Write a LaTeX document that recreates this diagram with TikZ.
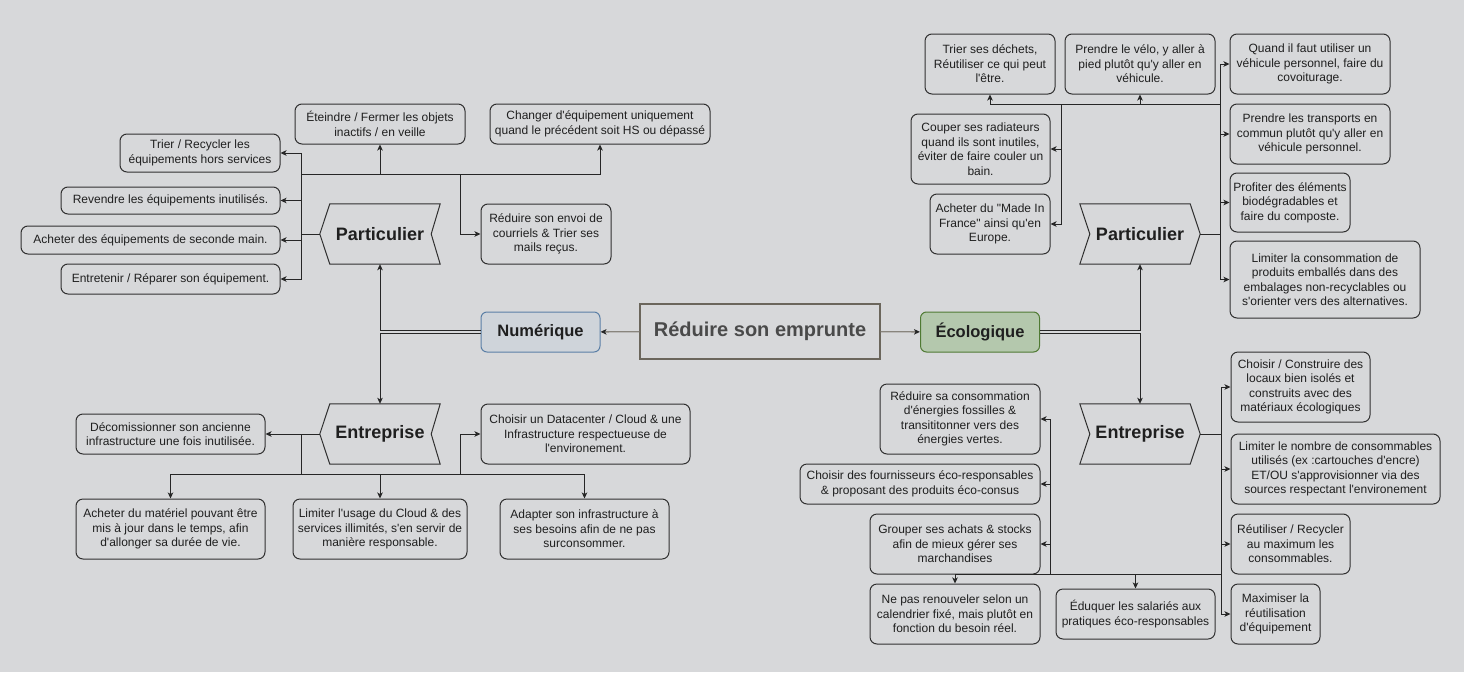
\documentclass[tikz,border=0pt]{standalone}
\usepackage{fontspec}
\newfontfamily\bodyfont{Liberation Sans}
\usetikzlibrary{arrows.meta}
\definecolor{bgc}{HTML}{D7D8DA}
\definecolor{boxc}{HTML}{303030}
\definecolor{txtc}{HTML}{1F1F1F}
\definecolor{linec}{HTML}{262626}
\definecolor{numfill}{HTML}{CFD4DA}
\definecolor{numdraw}{HTML}{5B7FA6}
\definecolor{ecofill}{HTML}{B4C8AD}
\definecolor{ecodraw}{HTML}{4F7A33}
\definecolor{ctrdraw}{HTML}{6B665C}
\definecolor{ctrtxt}{HTML}{4A4A4A}
\tikzset{
  box/.style={draw=boxc, line width=1pt, rounded corners=7pt, fill=bgc, align=center,
    inner sep=0pt, text=txtc, font=\bodyfont\fontsize{12}{14.5}\selectfont},
  stepnode/.style={minimum width=120pt, minimum height=60pt, inner sep=0pt, text=txtc,
    font=\bodyfont\bfseries\fontsize{18}{21}\selectfont},
  stepline/.style={draw=boxc, line width=1pt},
  arr/.style={draw=linec, line width=1pt, -{Stealth[length=6pt,width=5.5pt,inset=1.5pt]}},
  carr/.style={draw=ctrdraw!80, line width=1.3pt, -{Stealth[length=6pt,width=5.5pt,inset=1.5pt,color=linec]}},
  catbox/.style={line width=1pt, rounded corners=6pt, inner sep=0pt, minimum width=119pt,
    minimum height=40pt, text=txtc, font=\bodyfont\bfseries\fontsize{16.5}{20}\selectfont},
}
\newcommand\mybox[6]{\node[box,minimum width={(#3-#2)*1pt},minimum height={(#5-#4)*1pt}] (#1) at ({(#2+#3)/2},{(#4+#5)/2}) {#6};}
\begin{document}
\begin{tikzpicture}[x=1pt,y=-1pt]
\fill[bgc] (0,0) rectangle (1464,672);
\useasboundingbox (0,0) rectangle (1464,672);

% ---------- centre ----------
\node[draw=ctrdraw, line width=1.3pt, fill=bgc, minimum width=240pt, minimum height=55pt, inner sep=0pt,
  text=ctrtxt, font=\bodyfont\bfseries\fontsize{20}{24}\selectfont] (ctr) at (760,331.5) {Réduire son emprunte};
\node[catbox, draw=numdraw, fill=numfill] (num) at (540.5,332) {Numérique};
\node[catbox, draw=ecodraw, fill=ecofill] (eco) at (980,332) {Écologique};
\draw[carr] (ctr) -- (num);
\draw[carr] (ctr) -- (eco);

% ---------- left step shapes ----------
\node[stepnode] (lp) at (380,234) {Particulier};
\draw[stepline] ([xshift=10pt]lp.north west) -- (lp.west) -- ([xshift=10pt]lp.south west)
  -- (lp.south east) -- ([xshift=-9pt]lp.east) -- (lp.north east) -- cycle;
\node[stepnode] (le) at (380,434) {Entreprise};
\draw[stepline] ([xshift=10pt]le.north west) -- (le.west) -- ([xshift=10pt]le.south west)
  -- (le.south east) -- ([xshift=-9pt]le.east) -- (le.north east) -- cycle;

% ---------- right step shapes ----------
\node[stepnode] (rp) at (1140,234) {Particulier};
\draw[stepline] (rp.north west) -- ([xshift=-10pt]rp.north east) -- (rp.east)
  -- ([xshift=-10pt]rp.south east) -- (rp.south west) -- ([xshift=10pt]rp.west) -- cycle;
\node[stepnode] (re) at (1140,434) {Entreprise};
\draw[stepline] (re.north west) -- ([xshift=-10pt]re.north east) -- (re.east)
  -- ([xshift=-10pt]re.south east) -- (re.south west) -- ([xshift=10pt]re.west) -- cycle;

% ---------- left boxes ----------
\mybox{beteindre}{295}{465}{104}{144}{Éteindre / Fermer les objets\\inactifs / en veille}
\mybox{bchanger}{490}{710}{104}{144}{Changer d'équipement uniquement\\quand le précédent soit HS ou dépassé}
\mybox{btrier}{120}{280}{134}{172}{Trier / Recycler les\\équipements hors services}
\mybox{brevendre}{61}{280}{187}{214}{Revendre les équipements inutilisés.}
\mybox{bseconde}{21}{280}{226}{254}{Acheter des équipements de seconde main.}
\mybox{bentretenir}{61}{280}{264}{294}{Entretenir / Réparer son équipement.}
\mybox{bcourriels}{481}{611}{204}{264}{Réduire son envoi de\\courriels \& Trier ses\\mails reçus.}
\mybox{bdecom}{76}{265}{414}{454}{Décomissionner son ancienne\\infrastructure une fois inutilisée.}
\mybox{bdatacenter}{481}{690}{404}{464}{Choisir un Datacenter / Cloud \& une\\Infrastructure respectueuse de\\l'environement.}
\mybox{bmateriel}{76}{265}{499}{559}{Acheter du matériel pouvant être\\mis à jour dans le temps, afin\\d'allonger sa durée de vie.}
\mybox{bcloud}{293}{467}{499}{559}{Limiter l'usage du Cloud \& des\\services illimités, s'en servir de\\manière responsable.}
\mybox{badapter}{500}{669}{499}{559}{Adapter son infrastructure à\\ses besoins afin de ne pas\\surconsommer.}

% ---------- right boxes ----------
\mybox{bdechets}{925}{1055}{34}{94}{Trier ses déchets,\\Réutiliser ce qui peut\\l'être.}
\mybox{bvelo}{1065}{1215}{34}{94}{Prendre le vélo, y aller à\\pied plutôt qu'y aller en\\véhicule.}
\mybox{bcovoit}{1230}{1390}{34}{94}{Quand il faut utiliser un\\véhicule personnel, faire du\\covoiturage.}
\mybox{btransports}{1230}{1390}{104}{164}{Prendre les transports en\\commun plutôt qu'y aller en\\véhicule personnel.}
\mybox{bcompost}{1230}{1350}{173}{232}{Profiter des éléments\\biodégradables et\\faire du composte.}
\mybox{bemballes}{1230}{1420}{241}{318}{Limiter la consommation de\\produits emballés dans des\\embalages non-recyclables ou\\s'orienter vers des alternatives.}
\mybox{bradiateurs}{911}{1050}{114}{184}{Couper ses radiateurs\\quand ils sont inutiles,\\éviter de faire couler un\\bain.}
\mybox{bfrance}{930}{1050}{194}{254}{Acheter du "Made In\\France" ainsi qu'en\\Europe.}
\mybox{bfossiles}{880}{1040}{384}{454}{Réduire sa consommation\\d'énergies fossilles \&\\transititonner vers des\\énergies vertes.}
\mybox{bfournisseurs}{800}{1040}{464}{504}{Choisir des fournisseurs éco-responsables\\\& proposant des produits éco-consus}
\mybox{bgrouper}{870}{1040}{514}{574}{Grouper ses achats \& stocks\\afin de mieux gérer ses\\marchandises}
\mybox{brenouveler}{870}{1040}{584}{644}{Ne pas renouveler selon un\\calendrier fixé, mais plutôt en\\fonction du besoin réel.}
\mybox{beduquer}{1056}{1215}{589}{639}{Éduquer les salariés aux\\pratiques éco-responsables}
\mybox{blocaux}{1231}{1370}{352}{422}{Choisir / Construire des\\locaux bien isolés et\\construits avec des\\matériaux écologiques}
\mybox{bconsommables}{1231}{1440}{434}{504}{Limiter le nombre de consommables\\utilisés (ex :cartouches d'encre)\\ET/OU s'approvisionner via des\\sources respectant l'environement}
\mybox{brecycler}{1231}{1350}{514}{574}{Réutiliser / Recycler\\au maximum les\\consommables.}
\mybox{bmaximiser}{1231}{1320}{584}{644}{Maximiser la\\réutilisation\\d'équipement}

% ---------- bus coordinates ----------
\coordinate (lpb) at (301,234);
\coordinate (lpt) at (301,174);
\coordinate (leb) at (301,434);
\coordinate (lebb) at (301,474);
\coordinate (rpb) at (1220,234);
\coordinate (rpt) at (1220,104);
\coordinate (reb) at (1221,434);
\coordinate (rebb) at (1221,574);

% ---------- Numérique ----------
\draw[arr] ([yshift=1.5pt]num.west) -| (lp.south);
\draw[arr] ([yshift=-1.5pt]num.west) -| (le.north);

% left Particulier
\draw[arr] (lp.west) -- (lpb) |- (btrier);
\draw[arr] (lp.west) -- (lpb) |- (brevendre);
\draw[arr] (lp.west) -- (lpb) |- (bseconde);
\draw[arr] (lp.west) -- (lpb) |- (bentretenir);
\draw[arr] (lp.west) -- (lpb) -- (lpt) -| (beteindre);
\draw[arr] (lp.west) -- (lpb) -- (lpt) -| (bchanger);
\draw[arr] (lp.west) -- (lpb) -- (lpt) -- (460,174) |- (bcourriels);

% left Entreprise
\draw[arr] (le.west) -- (bdecom);
\draw[arr] (le.west) -- (leb) -- (lebb) -| (bmateriel);
\draw[arr] (le.west) -- (leb) -- (lebb) -| (bcloud);
\draw[arr] (le.west) -- (leb) -- (lebb) -| (badapter);
\draw[arr] (le.west) -- (leb) -- (lebb) -- (460,474) |- (bdatacenter);

% ---------- Écologique ----------
\draw[arr] ([yshift=1.5pt]eco.east) -| (rp.south);
\draw[arr] ([yshift=-1.5pt]eco.east) -| (re.north);

% right Particulier
\draw[arr] (rp.east) -- (rpb) |- (bcovoit);
\draw[arr] (rp.east) -- (rpb) |- (btransports);
\draw[arr] (rp.east) -- (rpb) |- (bcompost);
\draw[arr] (rp.east) -- (rpb) |- (bemballes);
\draw[arr] (rp.east) -- (rpb) -- (rpt) -| (bdechets);
\draw[arr] (rp.east) -- (rpb) -- (rpt) -| (bvelo);
\draw[arr] (rp.east) -- (rpb) -- (rpt) -- (1061,104) |- (bradiateurs);
\draw[arr] (rp.east) -- (rpb) -- (rpt) -- (1061,104) |- (bfrance);

% right Entreprise
\draw[arr] (re.east) -- (reb) |- (blocaux);
\draw[arr] (re.east) -- (reb) |- (bconsommables);
\draw[arr] (re.east) -- (reb) |- (brecycler);
\draw[arr] (re.east) -- (reb) |- (bmaximiser);
\draw[arr] (re.east) -- (reb) -- (rebb) -| (brenouveler);
\draw[arr] (re.east) -- (reb) -- (rebb) -| (beduquer);
\draw[arr] (re.east) -- (reb) -- (rebb) -- (1050,574) |- (bfossiles);
\draw[arr] (re.east) -- (reb) -- (rebb) -- (1050,574) |- (bfournisseurs);
\draw[arr] (re.east) -- (reb) -- (rebb) -- (1050,574) |- (bgrouper);
\end{tikzpicture}
\end{document}
